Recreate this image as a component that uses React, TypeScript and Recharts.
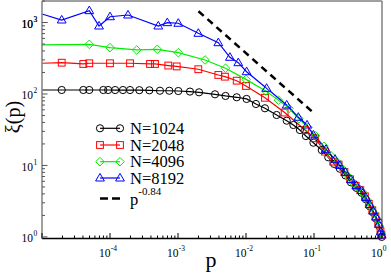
import React from 'react';
import { LineChart, Line, XAxis, YAxis } from 'recharts';

const FONT = '"Liberation Serif", "DejaVu Serif", "Times New Roman", serif';

// ---- data ----
const p1024 = [1e-5, 1.95e-5, 4.05e-5, 4.96e-5, 7.97e-5, 9.4e-5, 1.19e-4, 1.55e-4, 1.97e-4, 2.7e-4, 3.79e-4, 5.43e-4, 7.45e-4, 1.01e-3, 1.5e-3, 2.04e-3, 3.5e-3, 5.0e-3, 7.3e-3, 1.02e-2, 1.4e-2, 1.9e-2, 2.82e-2, 3.97e-2, 4.97e-2, 6.2e-2, 7.6e-2, 9.8e-2, 0.13, 0.162, 0.198, 0.24, 0.29, 0.35, 0.42, 0.5, 0.58, 0.66, 0.74, 0.82, 0.9, 0.96, 0.99];
const xi1024 = [113.7, 113.7, 113.7, 113.7, 113.7, 113.7, 113.5, 113.5, 113.5, 113, 112.5, 111, 111, 110, 108, 105.5, 99, 93.8, 89.9, 85.2, 72.4, 63.1, 50.8, 42.3, 36.8, 31.3, 25.8, 20.8, 16.4, 13.0, 10.5, 9.0, 7.25, 5.8, 4.85, 4.15, 3.35, 2.68, 2.2, 1.8, 1.43, 1.13, 1.0];

const p2048 = [1e-5, 1.95e-5, 4.05e-5, 4.96e-5, 1e-4, 1.97e-4, 3.88e-4, 4.59e-4, 7.2e-4, 9.57e-4, 1.99e-3, 3.92e-3, 4.9e-3, 7.3e-3, 1e-2, 1.9e-2, 3.7e-2, 7.38e-2, 0.1035, 0.145, 0.192, 0.23, 0.28, 0.34, 0.41, 0.48, 0.56, 0.64, 0.72, 0.8, 0.88, 0.95, 0.98];
const xi2048 = [269, 274, 263, 269, 269, 269, 263, 263, 250, 243, 222, 184.5, 174.6, 153.5, 129.4, 88.5, 55, 31.3, 24, 15.6, 11.3, 10.3, 8.1, 6.4, 5.2, 4.5, 3.7, 2.9, 2.36, 1.93, 1.58, 1.19, 1.07];

const p4096 = [1e-5, 4.96e-5, 1e-4, 2.47e-4, 4.96e-4, 1.01e-3, 2.5e-3, 5e-3, 1e-2, 1.95e-2, 3.0e-2, 4.3e-2, 6e-2, 8.2e-2, 0.105, 0.14, 0.18, 0.22, 0.27, 0.32, 0.38, 0.45, 0.52, 0.6, 0.68, 0.76, 0.84, 0.91, 0.97];
const xi4096 = [485, 495, 445, 413, 422, 378, 299, 229, 160, 110, 82, 63, 45, 34, 26, 18.5, 13.5, 11.1, 8.65, 7.0, 5.7, 4.85, 4.2, 3.3, 2.65, 2.17, 1.8, 1.42, 1.13];

const p8192 = [1e-5, 1.95e-5, 4.96e-5, 6.9e-5, 1e-4, 1.84e-4, 5.13e-4, 6.96e-4, 1.01e-3, 1.99e-3, 3.92e-3, 5.8e-3, 7.7e-3, 1.02e-2, 2.01e-2, 3.97e-2, 5.88e-2, 7.9e-2, 9.8e-2, 0.15, 0.204, 0.24, 0.29, 0.35, 0.42, 0.5, 0.58, 0.66, 0.74, 0.82, 0.9, 0.96, 0.99];
const xi8192 = [1315, 1084, 1465, 894, 1205, 1274, 894, 995, 976, 706, 522, 326, 274, 205, 120, 70, 47.2, 36.8, 26.7, 16.8, 12.2, 10.0, 8.0, 6.35, 5.25, 4.45, 3.55, 2.83, 2.3, 1.9, 1.5, 1.18, 1.06];

const pFit = [0.002, 0.1];
const xiFit = [1440, 53.7];

const legendLabels = ['N=1024', 'N=2048', 'N=4096', 'N=8192'];
const fitLabel = 'p';
const fitExponent = '-0.84';
const xTitle = 'p';
const yTitle = 'ξ(p)';

const xDecadeExps = [-5, -4, -3, -2, -1];
const xLabelExps = [-4, -3, -2, -1, 0];
const yDecadeExps = [0, 1, 2, 3];
const yLabelExps = [0, 1, 2, 3];
const minorMult = [1, 2, 3, 4, 5, 6, 7, 8, 9];

const xTicks: number[] = [];
xDecadeExps.forEach((e) => minorMult.forEach((m) => xTicks.push(m * Math.pow(10, e))));
xTicks.push(1);
const yTicks: number[] = [];
yDecadeExps.forEach((e) => minorMult.forEach((m) => yTicks.push(m * Math.pow(10, e))));
yTicks.push(1000);

const zip = (p: number[], xi: number[]) => p.map((x, i) => ({ x, y: xi[i] }));

const isDecade = (v: number) => Math.abs(Math.log10(v) - Math.round(Math.log10(v))) < 1e-6;
const expOf = (v: number) => Math.round(Math.log10(v));

const TICK_DARK = '#000';
const TICK_GRAY = '#555';
const LABEL_SIZE = 11.5;
const SUP_SIZE = 7.5;

const XTickBottom = (props: any) => {
  const { x, y, payload } = props;
  const v = payload.value;
  const major = isDecade(v);
  const len = major ? 5.5 : 3;
  const e = expOf(v);
  const showLabel = major && xLabelExps.includes(e);
  return (
    <g>
      <line x1={x} y1={y} x2={x} y2={y - len} stroke={TICK_DARK} strokeWidth={1} />
      {showLabel && (
        <text x={x + 0.5} y={y + 18} textAnchor="end" fontSize={LABEL_SIZE} fontFamily={FONT} fill="#000">10</text>
      )}
      {showLabel && (
        <text x={x + 0.8} y={y + 12} textAnchor="start" fontSize={SUP_SIZE} fontFamily={FONT} fill="#000">{String(e)}</text>
      )}
    </g>
  );
};

const XTickTop = (props: any) => {
  const { x, y, payload } = props;
  const major = isDecade(payload.value);
  const len = major ? 5.5 : 3;
  return <line x1={x} y1={y} x2={x} y2={y + len} stroke={TICK_GRAY} strokeWidth={1} />;
};

const YTickLeft = (props: any) => {
  const { x, y, payload } = props;
  const v = payload.value;
  const major = isDecade(v);
  const len = major ? 5.5 : 3;
  const e = expOf(v);
  const showLabel = major && yLabelExps.includes(e);
  return (
    <g>
      <line x1={x} y1={y} x2={x + len} y2={y} stroke={TICK_GRAY} strokeWidth={1} />
      {showLabel && (
        <text x={x - 9} y={y + 5.5} textAnchor="end" fontSize={LABEL_SIZE} fontFamily={FONT} fill="#000">10</text>
      )}
      {showLabel && (
        <text x={x - 8.5} y={y - 0.5} textAnchor="start" fontSize={SUP_SIZE} fontFamily={FONT} fill="#000">{String(e)}</text>
      )}
    </g>
  );
};

const YTickRight = (props: any) => {
  const { x, y, payload } = props;
  const major = isDecade(payload.value);
  const len = major ? 5.5 : 3;
  return <line x1={x} y1={y} x2={x - len} y2={y} stroke={TICK_GRAY} strokeWidth={1} />;
};

type Shape = 'circle' | 'square' | 'diamond' | 'triangle';

const Marker = ({ shape, cx, cy, color }: { shape: Shape; cx: number; cy: number; color: string }) => {
  const sw = 1;
  if (shape === 'circle') return <circle cx={cx} cy={cy} r={3.6} fill="none" stroke={color} strokeWidth={sw} />;
  if (shape === 'square') return <rect x={cx - 3.4} y={cy - 3.4} width={6.8} height={6.8} fill="none" stroke={color} strokeWidth={sw} />;
  if (shape === 'diamond') {
    const d = 4.3;
    return <polygon points={`${cx},${cy - d} ${cx + d},${cy} ${cx},${cy + d} ${cx - d},${cy}`} fill="none" stroke={color} strokeWidth={sw} />;
  }
  return <polygon points={`${cx},${cy - 4.6} ${cx + 4.4},${cy + 3} ${cx - 4.4},${cy + 3}`} fill="none" stroke={color} strokeWidth={sw} />;
};

const makeDot = (shape: Shape, color: string) => (props: any) => {
  const { cx, cy, index } = props;
  if (index === 0 || cx == null || cy == null) return <g key={`e${index}`} />;
  return (
    <g key={`d${index}`}>
      <Marker shape={shape} cx={cx} cy={cy} color={color} />
    </g>
  );
};

const series = [
  { name: legendLabels[0], data: zip(p1024, xi1024), color: '#000000', shape: 'circle' as Shape },
  { name: legendLabels[1], data: zip(p2048, xi2048), color: '#ff0000', shape: 'square' as Shape },
  { name: legendLabels[2], data: zip(p4096, xi4096), color: '#00ee00', shape: 'diamond' as Shape },
  { name: legendLabels[3], data: zip(p8192, xi8192), color: '#0000ff', shape: 'triangle' as Shape },
];

const legendRowsY = [128.3, 145, 161.7, 178];

export default function App() {
  return (
    <div style={{ position: 'absolute', left: 0, top: 0, width: 391, height: 275, background: '#fff' }}>
      <LineChart width={391} height={275} margin={{ top: 0, right: 8, bottom: 35.5, left: 41 }}>
        <XAxis
          xAxisId="b" dataKey="x" type="number" scale="log" domain={[1e-5, 1]} ticks={xTicks} interval={0}
          orientation="bottom" height={1} tickSize={0} tickMargin={0} tickLine={false}
          axisLine={{ stroke: '#000', strokeWidth: 1.5 }} tick={XTickBottom}
        />
        <XAxis
          xAxisId="t" dataKey="x" type="number" scale="log" domain={[1e-5, 1]} ticks={xTicks} interval={0}
          orientation="top" height={1} tickSize={0} tickMargin={0} tickLine={false}
          axisLine={{ stroke: '#808080', strokeWidth: 1.5 }} tick={XTickTop}
        />
        <YAxis
          yAxisId="l" type="number" scale="log" domain={[0.95, 2000]} ticks={yTicks} interval={0}
          orientation="left" width={1} tickSize={0} tickMargin={0} tickLine={false}
          axisLine={{ stroke: '#808080', strokeWidth: 1.5 }} tick={YTickLeft}
        />
        <YAxis
          yAxisId="r" type="number" scale="log" domain={[0.95, 2000]} ticks={yTicks} interval={0}
          orientation="right" width={1} tickSize={0} tickMargin={0} tickLine={false}
          axisLine={{ stroke: '#808080', strokeWidth: 1.5 }} tick={YTickRight}
        />
        {series.map((s) => (
          <Line
            key={s.name} xAxisId="b" yAxisId="l" data={s.data} dataKey="y" type="linear"
            stroke={s.color} strokeWidth={1.2} dot={makeDot(s.shape, s.color)} activeDot={false}
            isAnimationActive={false}
          />
        ))}
        <Line
          xAxisId="b" yAxisId="l" data={zip(pFit, xiFit)} dataKey="y" type="linear"
          stroke="#000" strokeWidth={2.5} strokeDasharray="7 5" dot={false} activeDot={false}
          isAnimationActive={false}
        />
      </LineChart>
      <svg width={391} height={275} style={{ position: 'absolute', left: 0, top: 0, pointerEvents: 'none' }}>
        <text x={211} y={267} textAnchor="middle" fontSize={22} fontFamily={FONT} fill="#000">{xTitle}</text>
        <text transform="translate(20,117) rotate(-90)" textAnchor="middle" fontSize={20} fontFamily={FONT} fill="#000">{yTitle}</text>
        {series.map((s, i) => (
          <g key={s.name}>
            <line x1={100} y1={legendRowsY[i]} x2={120} y2={legendRowsY[i]} stroke={s.color} strokeWidth={1.2} />
            <Marker shape={s.shape} cx={100} cy={legendRowsY[i]} color={s.color} />
            <Marker shape={s.shape} cx={120} cy={legendRowsY[i]} color={s.color} />
            <text x={130} y={legendRowsY[i] + 5.5} fontSize={16.5} fontFamily={FONT} fill="#000">{s.name}</text>
          </g>
        ))}
        <line x1={100} y1={198.5} x2={120} y2={198.5} stroke="#000" strokeWidth={2.5} strokeDasharray="8 4" />
        <text x={130} y={205} fontSize={16.5} fontFamily={FONT} fill="#000">
          {fitLabel}
          <tspan dy={-10} fontSize={11}>{fitExponent}</tspan>
        </text>
      </svg>
    </div>
  );
}
